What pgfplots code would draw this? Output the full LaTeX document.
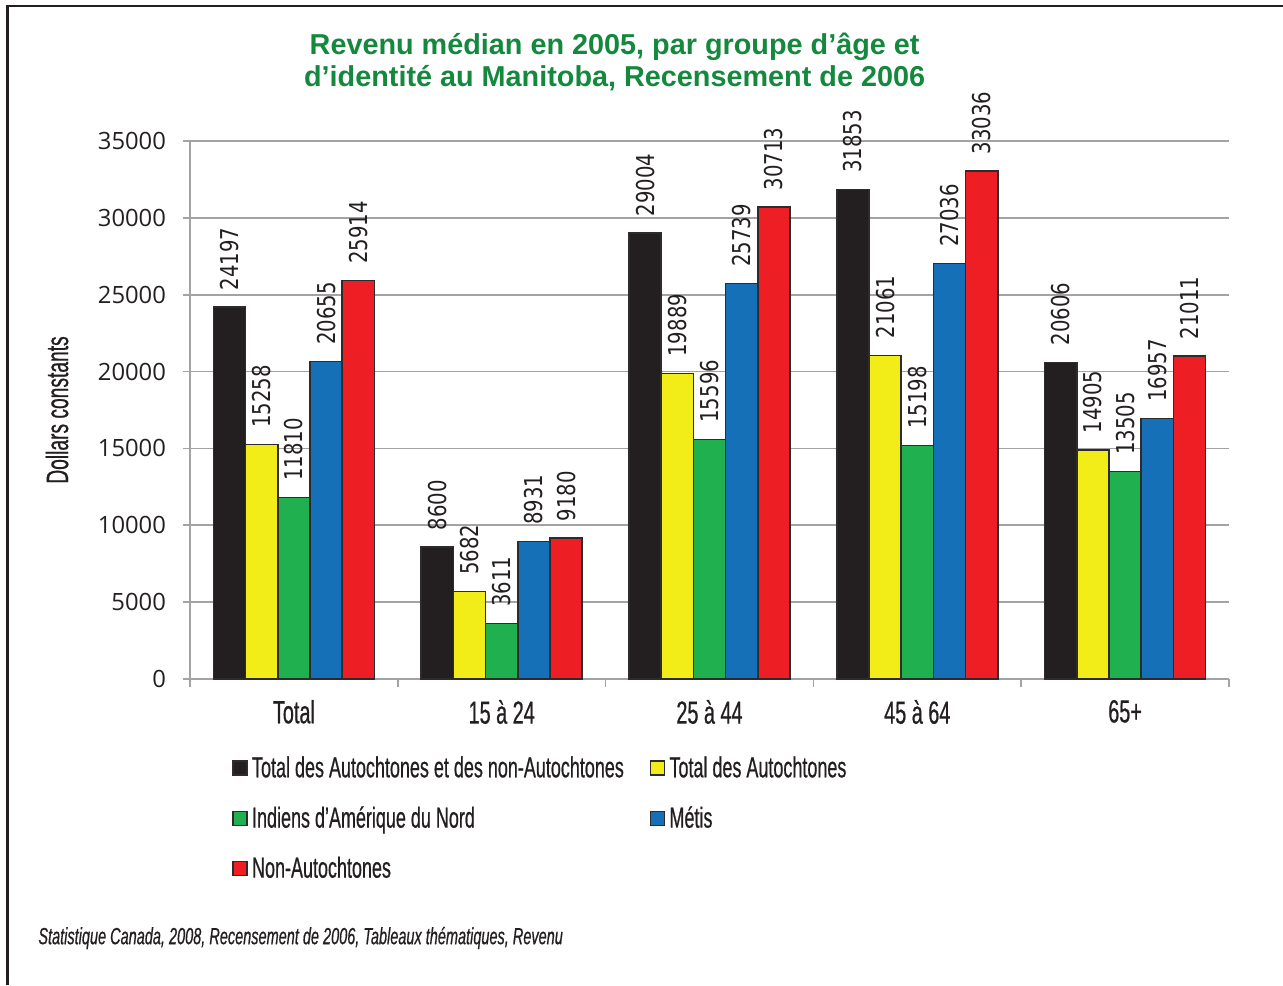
\documentclass[border=0pt]{standalone}
\usepackage{pgfplots}
\pgfplotsset{compat=1.18}
\usepackage{fontspec}
\setmainfont{Liberation Sans}
\newfontfamily\condfont[FakeStretch=0.62, FakeBold=0.6]{Liberation Sans}
\newfontfamily\numfont[FakeStretch=0.8]{DejaVu Sans}
\newfontfamily\tickfont{Open Sans}

\definecolor{cblack}{HTML}{231F20}
\definecolor{cyellow}{HTML}{F2EC19}
\definecolor{cgreen}{HTML}{21B04F}
\definecolor{cblue}{HTML}{1570B8}
\definecolor{cred}{HTML}{ED1F24}
\definecolor{ctitle}{RGB}{20,137,62}
\definecolor{cgrid}{HTML}{A3A3A3}
\definecolor{cedge}{HTML}{2E2B2C}

\begin{document}
\begin{tikzpicture}
\useasboundingbox (0,0) rectangle (641.5pt,492.5pt);
% outer frame (top and left edges)
\draw[cblack, line width=1.3pt] (3.6pt,0pt) -- (3.6pt,489.5pt) -- (641.5pt,489.5pt);
% title
\node[align=center, text=ctitle, font=\fontsize{14.4}{16}\selectfont\bfseries] at (307.3pt,461.5pt)
  {Revenu médian en 2005, par groupe d’âge et\\d’identité au Manitoba, Recensement de 2006};
% source
\node[anchor=west, inner sep=0pt, font=\condfont\itshape\fontsize{11.7}{13}\selectfont, text=cblack] at (19pt,23.5pt)
  {Statistique Canada, 2008, Recensement de 2006, Tableaux thématiques, Revenu};

\begin{axis}[
  at={(95pt,153pt)}, anchor=south west,
  scale only axis, width=519.5pt, height=269pt,
  /pgf/number format/assume math mode=true,
  ybar=0pt, bar width=16.1pt,
  xmin=-0.5, xmax=4.5, ymin=0, ymax=35000,
  scaled y ticks=false,
  axis x line*=bottom, axis y line*=left,
  axis line style={cgrid, line width=0.8pt, -},
  xtick={0,1,2,3,4},
  xticklabels={Total,15 à 24,25 à 44,45 à 64,65+},
  minor xtick={-0.5,0.5,1.5,2.5,3.5,4.5},
  major x tick style={draw=none},
  minor x tick style={cgrid, line width=0.8pt},
  minor tick length=4pt,
  tick align=outside,
  ytick={0,5000,10000,15000,20000,25000,30000,35000},
  yticklabels={0,5000,10000,15000,20000,25000,30000,35000},
  major y tick style={cgrid, line width=0.8pt},
  major tick length=3.5pt,
  ymajorgrids, grid style={cgrid, line width=0.8pt},
  xticklabel style={font=\condfont\fontsize{16}{18}\selectfont, text=cblack, yshift=-3.5pt},
  yticklabel style={font=\tickfont\fontsize{11.9}{13}\selectfont, text=cblack, xshift=-5pt},
  ylabel={Dollars constants},
  ylabel style={font=\condfont\fontsize{15.5}{17}\selectfont, text=cblack,
    at={(axis description cs:-0.128,0.5)}, anchor=center},
  every axis plot/.append style={draw=cedge, line width=0.75pt},
  nodes near coords={\pgfmathprintnumber[fixed,precision=0,1000 sep={}]{\pgfplotspointmeta}},
  nodes near coords style={font=\numfont\fontsize{12.3}{13}\selectfont, text=cblack,
    rotate=90, anchor=west, inner xsep=8pt, inner ysep=0pt},
  legend columns=2,
  legend cell align=left,
  legend image code/.code={\draw[#1, line width=0.8pt, draw=cedge] (0pt,-3.5pt) rectangle (7pt,3.5pt);},
  legend style={draw=none, fill=none, font=\condfont\fontsize{14.5}{16}\selectfont, text=cblack,
    at={(axis description cs:0.0347,-0.128)}, anchor=north west,
    /tikz/every odd column/.append style={column sep=0pt},
    /tikz/every even column/.append style={column sep=11pt},
    row sep=9pt},
]
\addplot[fill=cblack] coordinates {(0,24197) (1,8600) (2,29004) (3,31853) (4,20606)};
\addplot[fill=cyellow] coordinates {(0,15258) (1,5682) (2,19889) (3,21061) (4,14905)};
\addplot[fill=cgreen] coordinates {(0,11810) (1,3611) (2,15596) (3,15198) (4,13505)};
\addplot[fill=cblue] coordinates {(0,20655) (1,8931) (2,25739) (3,27036) (4,16957)};
\addplot[fill=cred] coordinates {(0,25914) (1,9180) (2,30713) (3,33036) (4,21011)};
\legend{Total des Autochtones et des non-Autochtones, Total des Autochtones,
  Indiens d’Amérique du Nord, Métis, Non-Autochtones}
\end{axis}
\end{tikzpicture}
\end{document}
